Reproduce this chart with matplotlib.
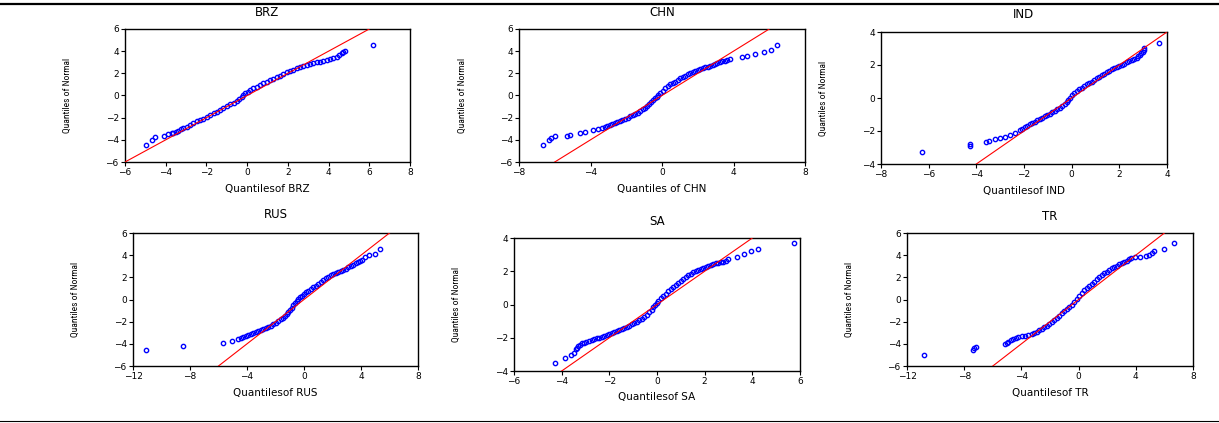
import matplotlib.pyplot as plt
from matplotlib import font_manager
from matplotlib.lines import Line2D

# quantile pairs (x = sample quantile, y = normal quantile)
brz_x = [-4.97, -4.69, -4.52, -4.08, -3.87, -3.70, -3.62, -3.50, -3.38, -3.25, -3.13, -2.96, -2.80,
         -2.64, -2.48, -2.31, -2.15, -1.98, -1.82, -1.65, -1.49, -1.33, -1.17, -1.00, -0.84, -0.67,
         -0.51, -0.39, -0.27, -0.18, -0.10, 0.02, 0.14, 0.30, 0.47, 0.63, 0.80, 0.96, 1.12, 1.28, 1.45,
         1.61, 1.78, 1.94, 2.11, 2.27, 2.43, 2.60, 2.76, 2.92, 3.09, 3.25, 3.42, 3.58, 3.74, 3.90, 4.07,
         4.23, 4.40, 4.52, 4.64, 4.72, 4.81, 6.17]
brz_y = [-4.47, -4.02, -3.72, -3.63, -3.51, -3.41, -3.41, -3.29, -3.17, -3.06, -2.96, -2.81, -2.66,
         -2.50, -2.33, -2.21, -2.09, -1.94, -1.79, -1.62, -1.46, -1.31, -1.16, -0.98, -0.80, -0.65,
         -0.50, -0.34, -0.17, 0.02, 0.20, 0.35, 0.50, 0.65, 0.80, 0.95, 1.10, 1.25, 1.40, 1.52, 1.64,
         1.79, 1.94, 2.08, 2.21, 2.33, 2.45, 2.57, 2.69, 2.75, 2.81, 2.90, 2.99, 3.06, 3.14, 3.21, 3.29,
         3.40, 3.51, 3.66, 3.81, 3.93, 4.05, 4.55]

chn_x = [-6.68, -6.31, -6.23, -5.99, -5.33, -5.15, -4.59, -4.31, -3.84, -3.56, -3.38, -3.19, -3.05,
         -2.91, -2.77, -2.63, -2.49, -2.35, -2.21, -2.07, -1.93, -1.79, -1.65, -1.51, -1.37, -1.23,
         -1.09, -0.95, -0.83, -0.71, -0.60, -0.48, -0.39, -0.30, -0.20, -0.11, 0.03, 0.17, 0.31, 0.45,
         0.59, 0.73, 0.87, 1.01, 1.15, 1.29, 1.43, 1.57, 1.71, 1.85, 1.99, 2.13, 2.27, 2.41, 2.55, 2.69,
         2.83, 2.97, 3.10, 3.24, 3.38, 3.52, 3.66, 3.80, 4.46, 4.74, 5.20, 5.71, 6.08, 6.42]
chn_y = [-4.47, -4.05, -3.80, -3.68, -3.63, -3.56, -3.41, -3.29, -3.11, -3.01, -2.93, -2.81, -2.72,
         -2.63, -2.54, -2.45, -2.36, -2.27, -2.18, -2.09, -1.99, -1.88, -1.78, -1.67, -1.54, -1.40,
         -1.25, -1.10, -0.94, -0.77, -0.59, -0.41, -0.26, -0.11, 0.05, 0.20, 0.43, 0.65, 0.83, 1.01,
         1.13, 1.25, 1.40, 1.55, 1.67, 1.79, 1.90, 2.00, 2.11, 2.21, 2.30, 2.39, 2.47, 2.54, 2.60, 2.66,
         2.75, 2.84, 2.92, 2.99, 3.07, 3.14, 3.20, 3.26, 3.44, 3.56, 3.75, 3.93, 4.11, 4.53]

ind_x = [-6.28, -4.25, -4.25, -3.60, -3.46, -3.22, -3.01, -2.80, -2.59, -2.38, -2.17, -2.07, -1.96,
         -1.86, -1.75, -1.65, -1.54, -1.44, -1.33, -1.23, -1.12, -1.02, -0.91, -0.81, -0.70, -0.60,
         -0.49, -0.39, -0.28, -0.21, -0.14, -0.07, 0.00, 0.11, 0.21, 0.32, 0.42, 0.53, 0.63, 0.74, 0.84,
         0.95, 1.05, 1.16, 1.26, 1.37, 1.47, 1.58, 1.68, 1.79, 1.89, 2.00, 2.10, 2.21, 2.31, 2.42, 2.52,
         2.63, 2.73, 2.80, 2.87, 2.93, 2.98, 3.02, 3.05, 3.68]
ind_y = [-3.26, -2.78, -2.92, -2.65, -2.61, -2.48, -2.40, -2.34, -2.24, -2.10, -1.94, -1.86, -1.78,
         -1.69, -1.60, -1.52, -1.43, -1.35, -1.27, -1.19, -1.11, -1.03, -0.95, -0.87, -0.79, -0.69,
         -0.59, -0.49, -0.38, -0.25, -0.12, 0.03, 0.18, 0.30, 0.42, 0.53, 0.63, 0.73, 0.83, 0.91, 0.99,
         1.09, 1.19, 1.29, 1.39, 1.48, 1.56, 1.65, 1.74, 1.80, 1.86, 1.93, 2.00, 2.08, 2.16, 2.22, 2.28,
         2.36, 2.44, 2.52, 2.61, 2.71, 2.81, 2.93, 3.05, 3.36]

rus_x = [-11.11, -8.49, -5.66, -5.08, -4.61, -4.43, -4.26, -4.08, -3.91, -3.73, -3.56, -3.38, -3.20,
         -3.03, -2.85, -2.68, -2.50, -2.33, -2.15, -1.98, -1.80, -1.63, -1.45, -1.34, -1.22, -1.10,
         -0.98, -0.87, -0.75, -0.63, -0.51, -0.40, -0.28, -0.14, 0.00, 0.15, 0.30, 0.48, 0.65, 0.83,
         1.01, 1.18, 1.36, 1.53, 1.71, 1.88, 2.06, 2.23, 2.41, 2.58, 2.76, 2.93, 3.11, 3.28, 3.46, 3.63,
         3.81, 3.93, 4.05, 4.26, 4.56, 4.96, 5.30]
rus_y = [-4.58, -4.16, -3.90, -3.72, -3.54, -3.45, -3.35, -3.28, -3.20, -3.12, -3.05, -2.95, -2.84,
         -2.77, -2.69, -2.60, -2.51, -2.38, -2.24, -2.10, -1.97, -1.80, -1.64, -1.48, -1.31, -1.13,
         -0.95, -0.74, -0.53, -0.35, -0.17, 0.02, 0.20, 0.35, 0.50, 0.65, 0.80, 0.95, 1.10, 1.25, 1.40,
         1.58, 1.76, 1.91, 2.06, 2.18, 2.30, 2.38, 2.45, 2.56, 2.66, 2.78, 2.90, 3.02, 3.14, 3.26, 3.38,
         3.47, 3.56, 3.80, 3.97, 4.15, 4.60]

sa_x = [-4.28, -3.86, -3.62, -3.48, -3.40, -3.35, -3.30, -3.23, -3.16, -3.07, -2.98, -2.86, -2.74,
        -2.64, -2.53, -2.43, -2.32, -2.22, -2.11, -2.01, -1.90, -1.80, -1.69, -1.59, -1.48, -1.38,
        -1.27, -1.17, -1.06, -0.96, -0.85, -0.75, -0.64, -0.54, -0.43, -0.33, -0.22, -0.15, -0.08,
        -0.01, 0.06, 0.17, 0.27, 0.38, 0.48, 0.59, 0.69, 0.80, 0.90, 1.01, 1.11, 1.21, 1.31, 1.42, 1.52,
        1.63, 1.73, 1.84, 1.94, 2.05, 2.15, 2.26, 2.36, 2.47, 2.57, 2.68, 2.78, 2.89, 2.99, 3.37, 3.65,
        3.94, 4.25, 5.75]
sa_y = [-3.54, -3.20, -3.04, -2.90, -2.70, -2.60, -2.50, -2.42, -2.34, -2.29, -2.24, -2.19, -2.14,
        -2.09, -2.03, -1.99, -1.95, -1.90, -1.85, -1.79, -1.73, -1.67, -1.61, -1.55, -1.49, -1.43,
        -1.37, -1.28, -1.19, -1.11, -1.03, -0.94, -0.85, -0.74, -0.63, -0.48, -0.33, -0.18, -0.03,
        0.10, 0.23, 0.37, 0.51, 0.66, 0.81, 0.94, 1.07, 1.19, 1.31, 1.42, 1.53, 1.65, 1.77, 1.86, 1.94,
        2.01, 2.08, 2.14, 2.20, 2.26, 2.32, 2.38, 2.44, 2.48, 2.52, 2.53, 2.54, 2.63, 2.72, 2.88, 3.02,
        3.20, 3.36, 3.70]

tr_x = [-10.84, -7.39, -7.32, -7.16, -5.15, -5.03, -4.91, -4.74, -4.56, -4.39, -4.21, -3.98, -3.75,
        -3.52, -3.28, -3.11, -2.93, -2.76, -2.58, -2.41, -2.23, -2.06, -1.88, -1.71, -1.53, -1.36,
        -1.18, -1.01, -0.83, -0.66, -0.48, -0.31, -0.13, 0.04, 0.21, 0.39, 0.56, 0.74, 0.91, 1.09, 1.26,
        1.44, 1.61, 1.79, 1.96, 2.14, 2.31, 2.49, 2.66, 2.84, 3.01, 3.19, 3.36, 3.50, 3.64, 3.95, 4.29,
        4.71, 4.95, 5.11, 5.27, 6.00, 6.67]
tr_y = [-5.00, -4.52, -4.34, -4.28, -4.05, -3.93, -3.81, -3.69, -3.56, -3.45, -3.35, -3.30, -3.26,
        -3.17, -3.08, -2.99, -2.90, -2.77, -2.63, -2.52, -2.40, -2.20, -2.02, -1.83, -1.65, -1.45,
        -1.25, -1.05, -0.85, -0.66, -0.46, -0.24, 0.02, 0.32, 0.62, 0.83, 1.01, 1.21, 1.40, 1.61, 1.82,
        2.02, 2.21, 2.36, 2.51, 2.66, 2.81, 2.93, 3.05, 3.16, 3.26, 3.38, 3.50, 3.61, 3.72, 3.80, 3.87,
        3.95, 4.05, 4.22, 4.38, 4.56, 5.07]

names = ['BRZ', 'CHN', 'IND', 'RUS', 'SA', 'TR']
xlabels = ['Quantilesof BRZ', 'Quantiles of CHN', 'Quantilesof IND',
           'Quantilesof RUS', 'Quantilesof SA', 'Quantilesof TR']
series = [(brz_x, brz_y), (chn_x, chn_y), (ind_x, ind_y),
          (rus_x, rus_y), (sa_x, sa_y), (tr_x, tr_y)]
xlims = [(-6, 8, 2), (-8, 8, 4), (-8, 4, 2), (-12, 8, 4), (-6, 6, 2), (-12, 8, 4)]
ylims = [6, 6, 4, 6, 4, 6]

# layout in pixels: axes box (left, top, right, bottom), title y, xlabel y, ylabel x
boxes = [(125, 29, 410, 162), (519, 29, 805, 162), (881, 32, 1167, 164),
         (133, 233, 418, 366), (514, 238, 800, 371), (907, 233, 1193, 366)]
title_y = [12, 12, 14, 215, 221, 216]
xlab_y = [189, 189, 191, 393, 397, 393]
ylab_x = [67, 462, 823, 75, 456, 849]

W, H = 1219, 423
plt.rcParams['font.family'] = ['DejaVu Sans']
available = {f.name for f in font_manager.fontManager.ttflist}
narrow = 'Liberation Sans'
for cand in ['Liberation Sans Narrow', 'DejaVu Sans Condensed', 'Roboto Condensed']:
    if cand in available:
        narrow = cand
        break

fig = plt.figure(figsize=(W / 100, H / 100), dpi=100)

for i in range(6):
    l, t, r, b = boxes[i]
    ax = fig.add_axes([l / W, 1 - b / H, (r - l) / W, (b - t) / H])
    x, y = series[i]
    ax.plot(x, y, linestyle='none', marker='o', markersize=3.1, markerfacecolor='none',
            markeredgecolor='blue', markeredgewidth=1.0, zorder=2)
    ax.axline((0, 0), slope=1, color='red', linewidth=0.8, zorder=3)
    x0, x1, step = xlims[i]
    ax.set_xlim(x0, x1)
    ax.set_xticks(list(range(x0, x1 + 1, step)))
    ax.set_ylim(-ylims[i], ylims[i])
    ax.set_yticks(list(range(-ylims[i], ylims[i] + 1, 2)))
    ax.tick_params(direction='out', length=3, width=0.8, labelsize=6.5, pad=1.5,
                   top=False, right=False)
    for sp in ax.spines.values():
        sp.set_linewidth(1.0)
        sp.set_color('black')
    cx = (l + r) / 2
    fig.text(cx / W, 1 - title_y[i] / H, names[i], ha='center', va='center', fontsize=8.5)
    fig.text(cx / W, 1 - xlab_y[i] / H, xlabels[i], ha='center', va='center', fontsize=7.5)
    fig.text(ylab_x[i] / W, 1 - ((t + b) / 2) / H, 'Quantiles of Normal', ha='center',
             va='center', rotation=90, fontsize=6.8, family=narrow)

fig.add_artist(Line2D([0, 1], [1 - 4 / H, 1 - 4 / H], color='black', linewidth=1.6,
                      transform=fig.transFigure))
fig.add_artist(Line2D([0, 1], [1 - 421 / H, 1 - 421 / H], color='black', linewidth=0.8,
                      transform=fig.transFigure))

fig.savefig('out.png', dpi=100, facecolor='white')
